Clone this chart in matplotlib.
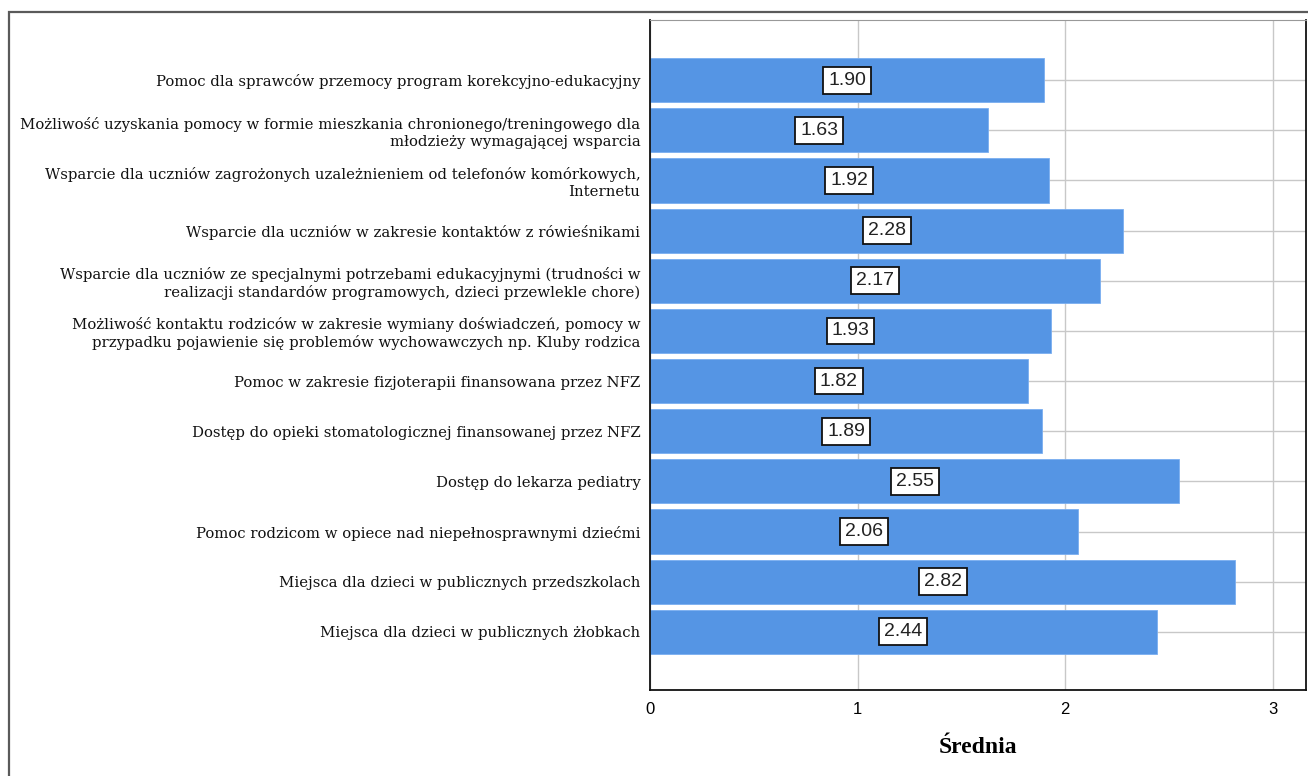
import matplotlib
matplotlib.use("Agg")
import matplotlib.pyplot as plt
from matplotlib.patches import Rectangle

plt.rcParams["font.family"] = ["DejaVu Serif", "Liberation Serif"]
narrow = ["Liberation Sans", "DejaVu Sans"]

labels = [
    "Pomoc dla sprawców przemocy program korekcyjno-edukacyjny",
    "Możliwość uzyskania pomocy w formie mieszkania chronionego/treningowego dla\nmłodzieży wymagającej wsparcia",
    "Wsparcie dla uczniów zagrożonych uzależnieniem od telefonów komórkowych,\nInternetu",
    "Wsparcie dla uczniów w zakresie kontaktów z rówieśnikami",
    "Wsparcie dla uczniów ze specjalnymi potrzebami edukacyjnymi (trudności w\nrealizacji standardów programowych, dzieci przewlekle chore)",
    "Możliwość kontaktu rodziców w zakresie wymiany doświadczeń, pomocy w\nprzypadku pojawienie się problemów wychowawczych np. Kluby rodzica",
    "Pomoc w zakresie fizjoterapii finansowana przez NFZ",
    "Dostęp do opieki stomatologicznej finansowanej przez NFZ",
    "Dostęp do lekarza pediatry",
    "Pomoc rodzicom w opiece nad niepełnosprawnymi dziećmi",
    "Miejsca dla dzieci w publicznych przedszkolach",
    "Miejsca dla dzieci w publicznych żłobkach",
]
means = [1.90, 1.63, 1.92, 2.28, 2.17, 1.93, 1.82, 1.89, 2.55, 2.06, 2.82, 2.44]
xticks = [0, 1, 2, 3]

fig = plt.figure(figsize=(13.08, 7.76), dpi=100)
ax = fig.add_axes([650 / 1308, 1 - 690 / 776, 656 / 1308, 670 / 776])

# outer frame like the exported chart
fig.patches.append(Rectangle((9 / 1308, -0.01), 1.0, 1 - 12.5 / 776 + 0.01,
                             transform=fig.transFigure, fill=False,
                             edgecolor="#5a5a5a", linewidth=1.6))

n = len(labels)
ypos = [n - 1 - i for i in range(n)]
bars = ax.barh(ypos, means, height=0.88, color="#5595e4",
               edgecolor="#7aaef0", linewidth=0.6, zorder=2)

for b, v in zip(bars, means):
    ax.text(b.get_width() / 2, b.get_y() + b.get_height() / 2, f"{v:.2f}",
            ha="center", va="center", fontsize=14, family=narrow, zorder=4,
            color="#222222",
            bbox=dict(boxstyle="square,pad=0.25", facecolor="white",
                      edgecolor="#111111", linewidth=1.3))

ax.set_yticks(ypos)
ax.set_yticklabels(labels, fontsize=10.75, linespacing=1.2, color="#111111")
ax.set_xticks(xticks)
ax.set_xticklabels([str(t) for t in xticks], fontsize=12, family=narrow)
ax.set_xlim(0, 3.16)
ax.set_ylim(-1.16, n - 1 + 1.2)
ax.tick_params(axis="y", length=0, pad=7)
ax.tick_params(axis="x", length=0, pad=9)

ax.grid(True, color="#c8c8c8", linewidth=1.0, zorder=0)
ax.set_axisbelow(True)
for side in ["left", "bottom", "right"]:
    ax.spines[side].set_color("#111111")
    ax.spines[side].set_linewidth(1.3)
ax.spines["top"].set_color("#999999")

ax.set_xlabel("Średnia", fontsize=17, fontweight="bold", labelpad=14,
              family=["Liberation Serif", "DejaVu Serif"])

fig.savefig("out.png", dpi=100)
